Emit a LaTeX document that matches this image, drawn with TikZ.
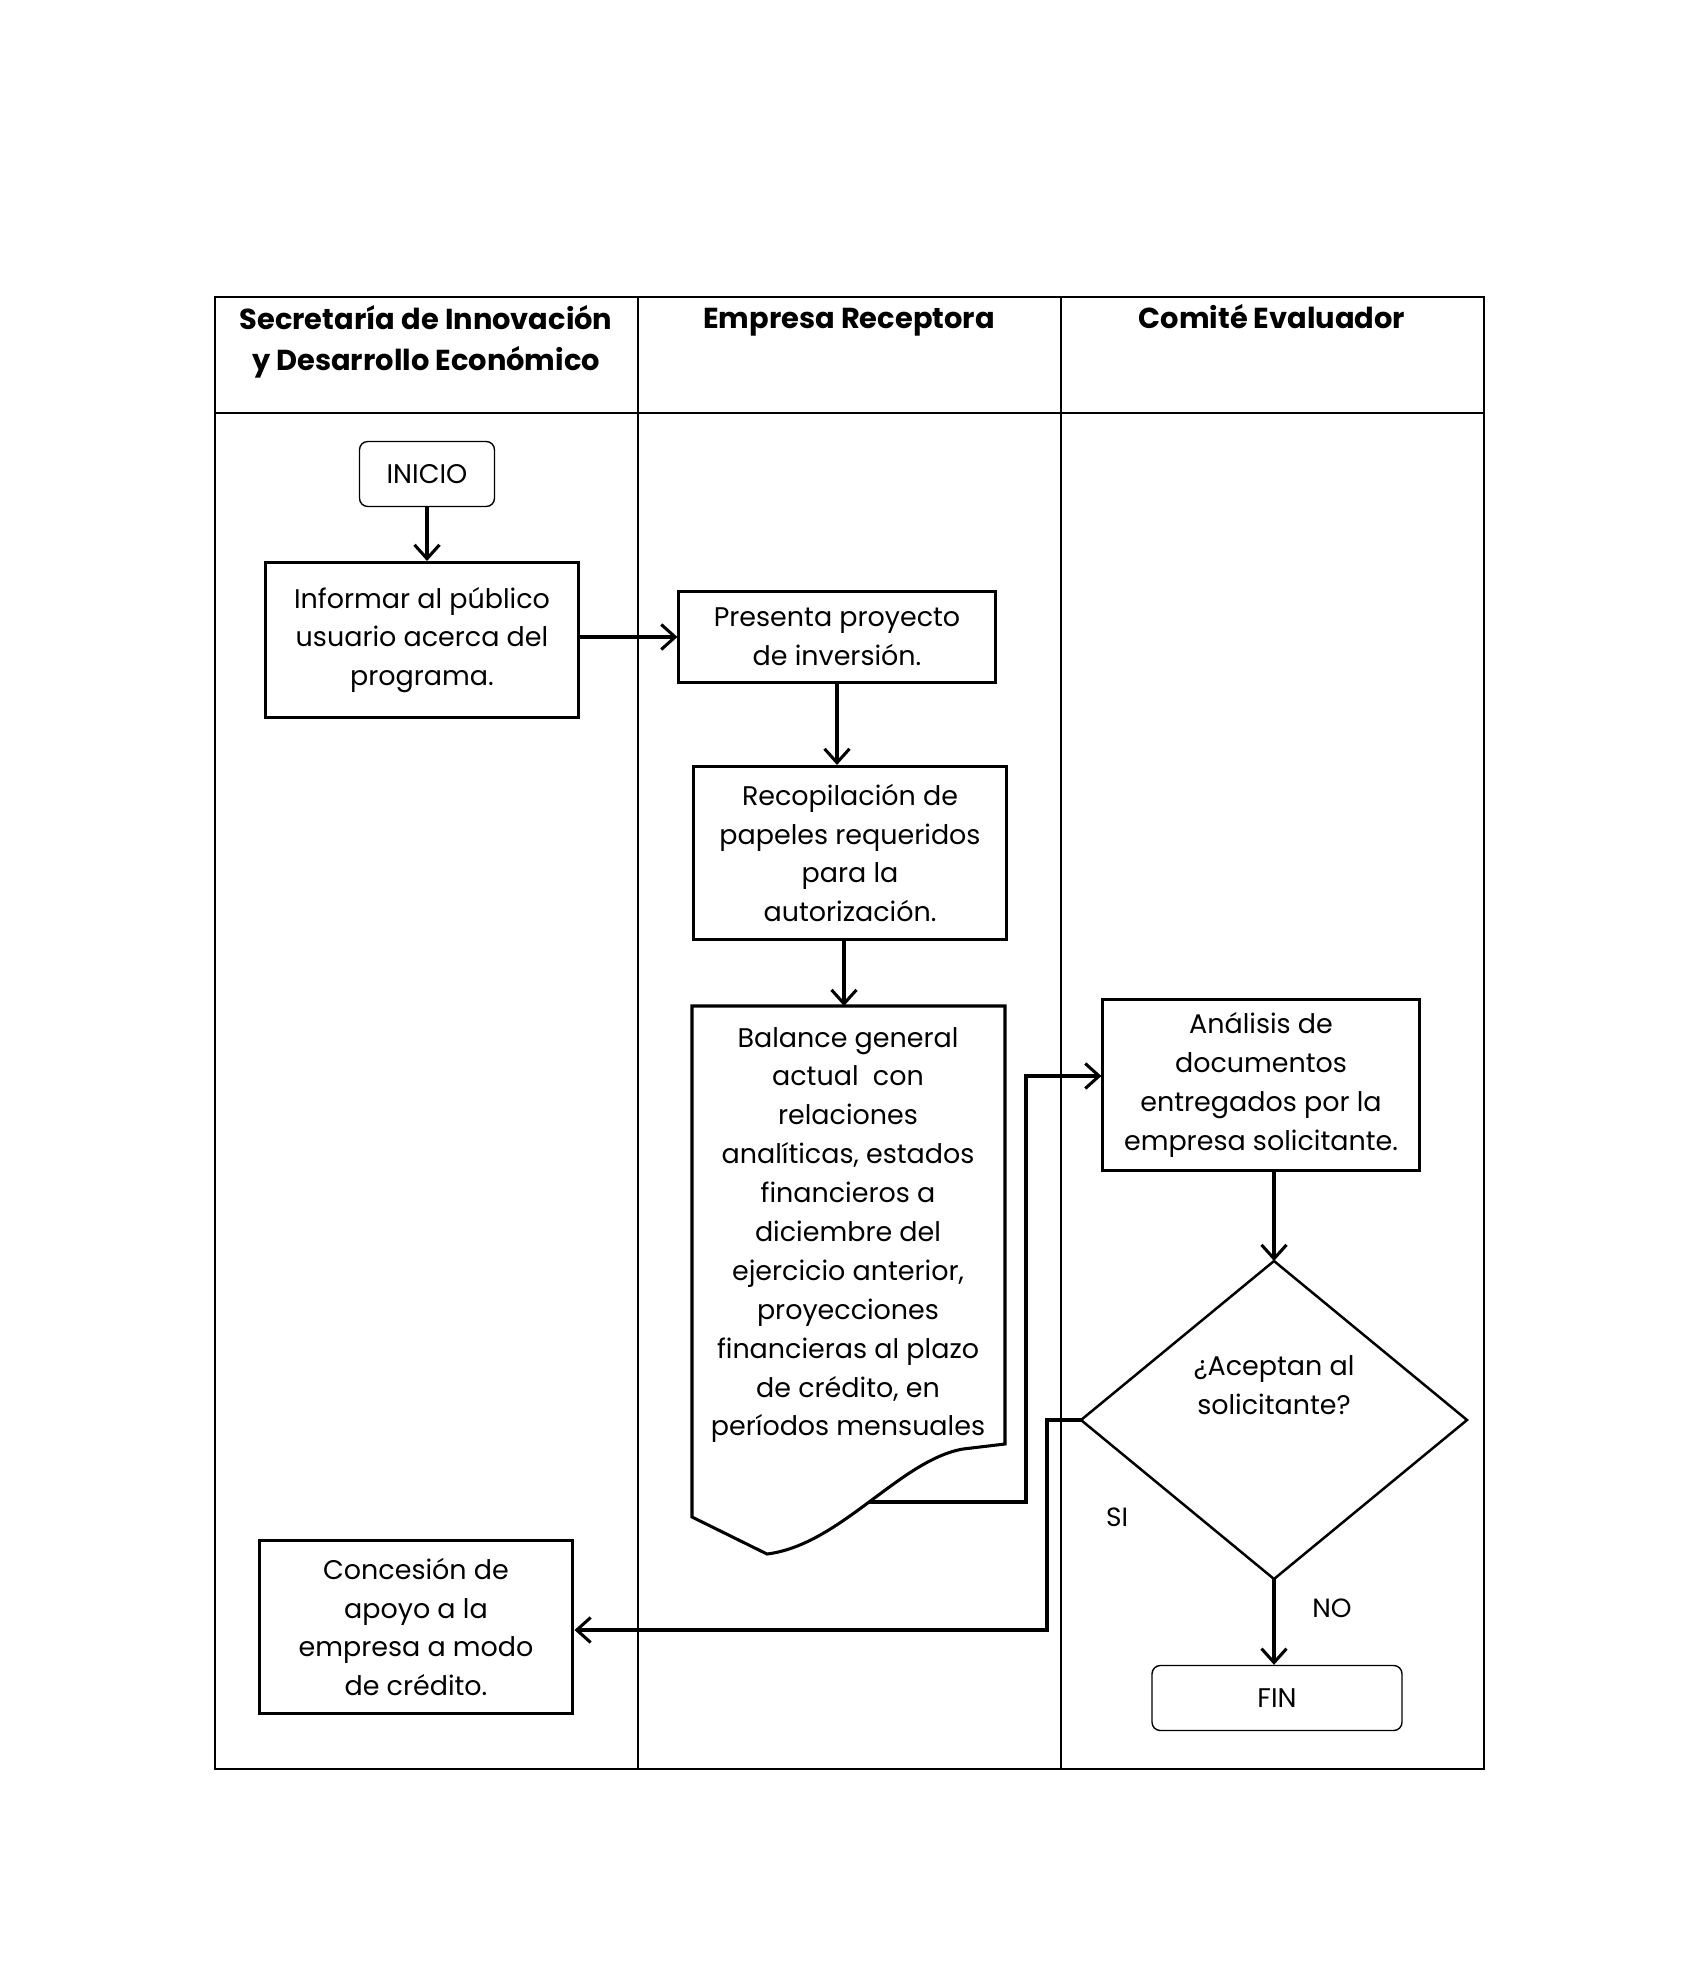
\documentclass[tikz,border=0pt]{standalone}
\usepackage{fontspec}
\setmainfont{Poppins}
\usetikzlibrary{arrows.meta,shapes.geometric}
\begin{document}
\begin{tikzpicture}[x=0.36pt,y=-0.36pt,
  every node/.style={font=\fontsize{9.7}{14}\selectfont, align=center, inner sep=0pt},
  grid/.style={line width=0.8pt},
  procbox/.style={draw, line width=1.1pt, rectangle},
  termbox/.style={draw, line width=0.5pt, rounded corners=3pt, rectangle},
  hdr/.style={font=\fontsize{10.4}{15}\selectfont\bfseries, anchor=base},
  conn/.style={line width=1.1pt, -{Straight Barb[length=5pt,width=9pt]}},
  lbl/.style={font=\fontsize{9.5}{12}\selectfont}
]
\useasboundingbox (0,0) rectangle (1700,1961);
\fill[white] (0,0) rectangle (1700,1961);
% table
\draw[grid] (215,297) rectangle (1484,1769);
\draw[grid] (215,413) -- (1484,413);
\draw[grid] (638,297) -- (638,1769);
\draw[grid] (1061,297) -- (1061,1769);
\node[hdr] (h1) at (426,371) {Secretaría de Innovación\\y Desarrollo Económico};
\node[hdr] (h2) at (849,329) {Empresa Receptora};
\node[hdr] (h3) at (1272,329) {Comité Evaluador};
% nodes
\node[termbox, minimum width=48.6pt, minimum height=23.4pt] (ini) at (427,474) {INICIO};
\node[procbox, minimum width=113pt, minimum height=55.8pt] (inf) at (422,640) {Informar al público\\usuario acerca del\\programa.};
\node[procbox, minimum width=113.8pt, minimum height=32.8pt] (pres) at (837,637) {Presenta proyecto\\de inversión.};
\node[procbox, minimum width=113pt, minimum height=62.3pt] (rec) at (850,853) {Recopilación de\\papeles requeridos\\para la\\autorización.};
% document shape
\draw[line width=1.1pt] (692,1006) -- (1005,1006) -- (1005,1444) -- (963,1449)
   .. controls (900,1460) and (840,1545) .. (767,1554) -- (692,1517) -- cycle;
\coordinate (doctop) at (844,1006);
\coordinate (docout) at (869,1502);
\coordinate (k1) at (1026,1502);
\coordinate (k2) at (1026,1076);
\coordinate (k3) at (1047,1420);
\coordinate (k4) at (1047,1630);
\node (doc) at (848,1235) {Balance general\\actual \ con\\relaciones\\analíticas, estados\\financieros a\\diciembre del\\ejercicio anterior,\\proyecciones\\financieras al plazo\\de crédito, en\\períodos mensuales};
\node[procbox, minimum width=113.8pt, minimum height=61.6pt] (anl) at (1261,1085) {Análisis de\\documentos\\entregados por la\\empresa solicitante.};
\draw[line width=0.9pt] (1274,1261) coordinate (dtop) -- (1467,1420) coordinate (dright) -- (1274,1579) coordinate (dbot) -- (1081,1420) coordinate (dleft) -- cycle;
\node (dectxt) at (1274,1385) {¿Aceptan al\\solicitante?};
\node[termbox, minimum width=90pt, minimum height=23.4pt] (fin) at (1277,1698) {FIN};
\node[procbox, minimum width=113pt, minimum height=62pt] (con) at (416,1627) {Concesión de\\apoyo a la\\empresa a modo\\de crédito.};
\node[lbl] (si) at (1117,1517) {SI};
\node[lbl] (no) at (1332,1608) {NO};
% connectors
\draw[conn] (ini.south) -- (ini.south |- inf.north);
\draw[conn] (pres.west -| inf.east) -- (pres.west);
\draw[conn] (pres.south) -- (pres.south |- rec.north);
\draw[conn] (rec.south -| doctop) -- (doctop);
\draw[conn] (docout) -- (k1) -- (k2) -- (k2 -| anl.west);
\draw[conn] (dtop |- anl.south) -- (dtop);
\draw[conn] (dbot) -- (dbot |- fin.north);
\draw[conn] (dleft) -- (k3) -- (k4) -- (k4 -| con.east);
\end{tikzpicture}
\end{document}
